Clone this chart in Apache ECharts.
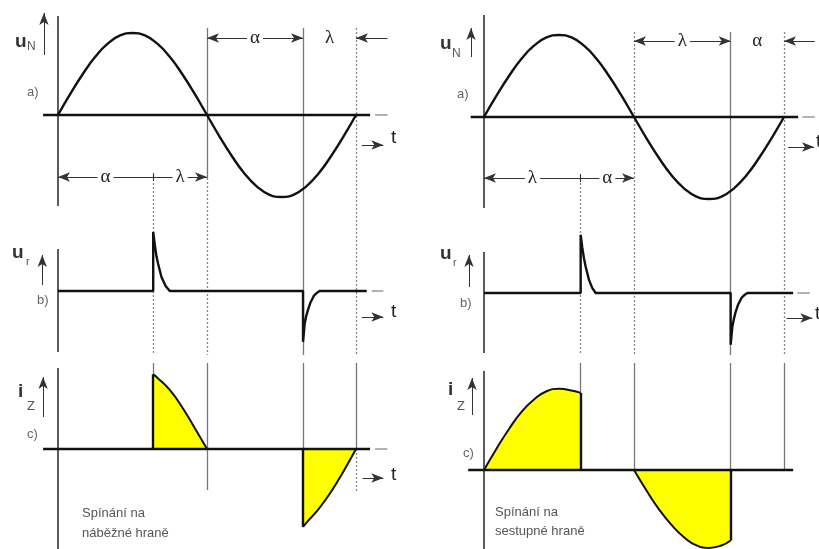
<!DOCTYPE html>
<html>
<head>
<meta charset="utf-8">
<style>
  html, body { margin: 0; padding: 0; background: #fff; }
  #chart { width: 819px; height: 549px; }
</style>
<script src="https://cdn.jsdelivr.net/npm/echarts@6/dist/echarts.min.js"></script>
</head>
<body>
<div id="chart"></div>
<script>
// supply voltage u_N, one period, read every 15 deg
var phase = [0, 15, 30, 45, 60, 75, 90, 105, 120, 135, 150, 165, 180, 195, 210, 225, 240, 255, 270, 285, 300, 315, 330, 345, 360];
var uN = [0, 0.26, 0.5, 0.71, 0.87, 0.97, 1, 0.97, 0.87, 0.71, 0.5, 0.26, 0, -0.26, -0.5, -0.71, -0.87, -0.97, -1, -0.97, -0.87, -0.71, -0.5, -0.26, 0];

// switching instants (deg): alpha/lambda split, zero cross, second switch, period end
var swLeft = [115, 180, 296, 360];
var swRight = [116, 180, 296, 360];

// control pulses u_r
var urLeftPhase = [0, 115, 115, 117, 119, 121, 125, 130, 135, 296, 296, 298, 300, 302, 305, 309, 313, 316, 373];
var urLeftVal = [0, 0, 0.72, 0.56, 0.42, 0.33, 0.17, 0.06, 0, 0, -0.62, -0.4, -0.3, -0.23, -0.14, -0.06, -0.02, 0, 0];
var urRightPhase = [0, 116, 116, 118, 120, 122, 126, 130, 134, 296, 296, 298, 300, 302, 305, 309, 313, 316, 371];
var urRightVal = [0, 0, 0.71, 0.55, 0.42, 0.32, 0.16, 0.06, 0, 0, -0.63, -0.41, -0.31, -0.23, -0.14, -0.06, -0.02, 0, 0];

// load current i_Z
var izLeftPosPhase = [115, 120, 135, 150, 165, 180];
var izLeftPosVal = [0.91, 0.87, 0.72, 0.51, 0.26, 0];
var izLeftNegPhase = [296, 300, 315, 330, 345, 360];
var izLeftNegVal = [-0.95, -0.9, -0.73, -0.52, -0.27, 0];
var izRightPosPhase = [0, 15, 30, 45, 60, 75, 90, 105, 116];
var izRightPosVal = [0, 0.26, 0.5, 0.71, 0.86, 0.96, 0.99, 0.97, 0.94];
var izRightNegPhase = [180, 195, 210, 225, 240, 255, 270, 285, 296];
var izRightNegVal = [0, -0.25, -0.48, -0.67, -0.82, -0.92, -0.95, -0.92, -0.86];

// layout: pixel origin and px per degree for each column, zero line of each panel
var COLS = [
  { x0: 58, kx: 298 / 360, xMin: -70, xMax: 424, zero: [115, 291, 449] },
  { x0: 484, kx: 300 / 360, xMin: -88, xMax: 402, zero: [117, 293, 470] }
];
var KY = 82;
var Y_RANGE = [[-1.3, 1.3], [-1, 1], [-1.2, 1.2]];

var AXIS = { color: '#333', width: 1.6, type: 'solid' };
var SOLID = { color: '#777', width: 1.3, type: 'solid' };
var DOT = { color: '#888', width: 1.3, type: [2, 2] };
var BLACK = { color: '#111', width: 2.4, type: 'solid' };
var DIM = { color: '#333', width: 1, type: 'solid' };
var DASH = { color: '#999', width: 1.5, type: 'solid' };

function pts (xs, ys) {
  return xs.map(function (x, i) { return [x, ys[i]] })
}

function seg (x1, y1, x2, y2, style, s1, s2, label) {
  return [
    { coord: [x1, y1], symbol: s1 || 'none', symbolSize: [7, 12], lineStyle: style, label: label || { show: false } },
    { coord: [x2, y2], symbol: s2 || 'none', symbolSize: [7, 12] }
  ]
}

function dimLabel (t, plain) {
  return {
    show: true, formatter: t, position: 'middle', distance: 0, verticalAlign: 'middle',
    color: '#222', fontSize: 19, fontFamily: 'Liberation Serif',
    backgroundColor: plain ? 'transparent' : '#fff', padding: [0, 3]
  }
}

var grids = [], xAxes = [], yAxes = [], series = []

COLS.forEach(function (c) {
  var left = c.x0 + c.xMin * c.kx
  var width = (c.xMax - c.xMin) * c.kx
  for (var p = 0; p < 3; p++) {
    var lo = Math.max(Y_RANGE[p][0], -(549 - c.zero[p]) / KY)
    var hi = Y_RANGE[p][1]
    grids.push({ left: left, width: width, top: c.zero[p] - hi * KY, height: (hi - lo) * KY })
    yAxes.push({ type: 'value', min: lo, max: hi, show: false, gridIndex: grids.length - 1 })
    xAxes.push({ type: 'value', min: c.xMin, max: c.xMax, show: false, gridIndex: grids.length - 1 })
  }
  // overlay grid for guides, dimension arrows (y in px)
  grids.push({ left: left, width: width, top: 0, height: 549 })
  yAxes.push({ type: 'value', min: 0, max: 549, inverse: true, show: false, gridIndex: grids.length - 1 })
  xAxes.push({ type: 'value', min: c.xMin, max: c.xMax, show: false, gridIndex: grids.length - 1 })
})

function wave (gi, data, o) {
  o = o || {}
  var s = {
    type: 'line', xAxisIndex: gi, yAxisIndex: gi, data: data, symbol: 'none',
    smooth: !!o.smooth, silent: true, animation: false, z: 3,
    lineStyle: { color: '#111', width: o.width || 2.4 }
  }
  if (o.fill) s.areaStyle = { color: '#ffff00', opacity: 1, origin: 0 }
  if (o.marks) s.markLine = { silent: true, animation: false, symbol: 'none', data: o.marks }
  series.push(s)
}

function overlay (gi, marks) {
  series.push({
    type: 'line', xAxisIndex: gi, yAxisIndex: gi, data: [], z: 1, silent: true, animation: false,
    markLine: { silent: true, animation: false, symbol: 'none', z: 1, data: marks }
  })
}

// ---- left column: switching on rising edge
var L = swLeft
wave(0, pts(phase, uN), { smooth: true, marks: [seg(-18, 0, 377, 0, BLACK)] })
wave(1, pts(urLeftPhase, urLeftVal))
wave(2, pts(izLeftPosPhase, izLeftPosVal), {
  smooth: true, fill: true, width: 2,
  marks: [seg(-18, 0, 377, 0, BLACK), seg(izLeftPosPhase[0], 0, izLeftPosPhase[0], izLeftPosVal[0], BLACK)]
})
wave(2, pts(izLeftNegPhase, izLeftNegVal), {
  smooth: true, fill: true, width: 2,
  marks: [seg(izLeftNegPhase[0], 0, izLeftNegPhase[0], izLeftNegVal[0], BLACK)]
})
overlay(3, [
  seg(0, 16, 0, 206, AXIS), seg(0, 249, 0, 352, AXIS), seg(0, 368, 0, 549, AXIS),
  seg(L[0], 175, L[0], 355, DOT), seg(L[0], 363, L[0], 374, SOLID),
  seg(L[1], 28, L[1], 178, SOLID), seg(L[1], 178, L[1], 355, DOT), seg(L[1], 363, L[1], 490, SOLID),
  seg(L[2], 28, L[2], 355, SOLID), seg(L[2], 363, L[2], 449, SOLID),
  seg(L[3], 28, L[3], 355, DOT), seg(L[3], 363, L[3], 449, SOLID), seg(L[3], 449, L[3], 493, DOT),
  // dimension arrows
  seg(L[1], 38, L[2], 38, DIM, 'arrow', 'arrow', dimLabel('α')),
  seg(L[2], 38, L[3], 38, { color: 'transparent', width: 1 }, 'none', 'none', dimLabel('λ', true)),
  seg(398, 38, L[3], 38, DIM, 'none', 'arrow'),
  seg(0, 177, L[0], 177, DIM, 'arrow', 'none', dimLabel('α')),
  seg(L[0], 177, L[1], 177, DIM, 'none', 'arrow', dimLabel('λ')),
  seg(L[0], 173, L[0], 181, DIM),
  // t arrows
  seg(367, 145, 393, 145, DIM, 'none', 'arrow'),
  seg(367, 317, 393, 317, DIM, 'none', 'arrow'),
  seg(368, 478, 393, 478, DIM, 'none', 'arrow'),
  // axis end dashes
  seg(383, 115, 398, 115, DASH), seg(379, 291, 393, 291, DASH), seg(383, 449, 398, 449, DASH),
  // quantity arrows
  seg(-17, 55, -17, 13, DIM, 'none', 'arrow'),
  seg(-19, 285, -19, 255, DIM, 'none', 'arrow'),
  seg(-18, 417, -18, 377, DIM, 'none', 'arrow')
])

// ---- right column: switching on falling edge
var R = swRight
wave(4, pts(phase, uN), { smooth: true, marks: [seg(-16, 0, 377, 0, BLACK)] })
wave(5, pts(urRightPhase, urRightVal))
wave(6, pts(izRightPosPhase, izRightPosVal), {
  smooth: true, fill: true, width: 2,
  marks: [seg(-19, 0, 371, 0, BLACK), seg(R[0], 0, R[0], izRightPosVal[izRightPosVal.length - 1], BLACK)]
})
wave(6, pts(izRightNegPhase, izRightNegVal), {
  smooth: true, fill: true, width: 2,
  marks: [seg(R[2], 0, R[2], izRightNegVal[izRightNegVal.length - 1], BLACK)]
})
overlay(7, [
  seg(0, 15, 0, 208, AXIS), seg(0, 252, 0, 353, AXIS), seg(0, 371, 0, 549, AXIS),
  seg(R[0], 175, R[0], 355, DOT), seg(R[0], 363, R[0], 393, SOLID),
  seg(R[1], 32, R[1], 355, DOT), seg(R[1], 363, R[1], 470, SOLID),
  seg(R[2], 32, R[2], 355, SOLID), seg(R[2], 363, R[2], 470, SOLID),
  seg(R[3], 32, R[3], 355, DOT), seg(R[3], 363, R[3], 470, SOLID),
  seg(R[1], 41, R[2], 41, DIM, 'arrow', 'arrow', dimLabel('λ')),
  seg(R[2], 41, R[3], 41, { color: 'transparent', width: 1 }, 'none', 'none', dimLabel('α', true)),
  seg(397, 41, R[3], 41, DIM, 'none', 'arrow'),
  seg(0, 178, R[0], 178, DIM, 'arrow', 'none', dimLabel('λ')),
  seg(R[0], 178, R[1], 178, DIM, 'none', 'arrow', dimLabel('α')),
  seg(R[0], 174, R[0], 182, DIM),
  seg(365, 147, 396, 147, DIM, 'none', 'arrow'),
  seg(363, 318, 394, 318, DIM, 'none', 'arrow'),
  seg(382, 117, 397, 117, DASH), seg(376, 293, 391, 293, DASH),
  seg(-15.6, 57, -15.6, 28, DIM, 'none', 'arrow'),
  seg(-18, 287, -18, 255, DIM, 'none', 'arrow'),
  seg(-14.4, 415, -14.4, 378, DIM, 'none', 'arrow')
])

function txt (x, y, s, size, color, bold) {
  return {
    type: 'text', x: x, y: y, silent: true, z: 10,
    style: {
      text: s, fill: color || '#333', verticalAlign: 'middle', align: 'left',
      font: (bold ? 'bold ' : '') + size + 'px "Liberation Sans", Arial, sans-serif'
    }
  }
}

var labels = [
  txt(15, 42, 'u', 19, '#333', true), txt(27, 47, 'N', 12, '#555'),
  txt(27, 92, 'a)', 13, '#666'),
  txt(12, 253, 'u', 19, '#333', true), txt(26, 262, 'r', 11, '#555'),
  txt(37, 300, 'b)', 13, '#666'),
  txt(18, 392, 'i', 19, '#333', true), txt(27, 406, 'Z', 13, '#555'),
  txt(27, 434, 'c)', 13, '#666'),
  txt(82, 513, 'Spínání na', 13, '#555'), txt(82, 533, 'náběžné hraně', 13, '#555'),
  txt(391, 138, 't', 19, '#222'), txt(391, 312, 't', 19, '#222'), txt(391, 475, 't', 19, '#222'),

  txt(440, 44, 'u', 19, '#333', true), txt(452, 54, 'N', 12, '#555'),
  txt(457, 94, 'a)', 13, '#666'),
  txt(440, 254, 'u', 19, '#333', true), txt(453, 263, 'r', 11, '#555'),
  txt(460, 303, 'b)', 13, '#666'),
  txt(448, 390, 'i', 19, '#333', true), txt(457, 406, 'Z', 13, '#555'),
  txt(463, 453, 'c)', 13, '#666'),
  txt(495, 512, 'Spínání na', 13, '#555'), txt(495, 531, 'sestupné hraně', 13, '#555'),
  txt(816, 142, 't', 19, '#222'), txt(815, 314, 't', 19, '#222')
]

var chart = echarts.init(document.getElementById('chart'))
chart.setOption({
  animation: false,
  backgroundColor: '#fff',
  grid: grids,
  xAxis: xAxes,
  yAxis: yAxes,
  series: series,
  graphic: labels
})
</script>
</body>
</html>
